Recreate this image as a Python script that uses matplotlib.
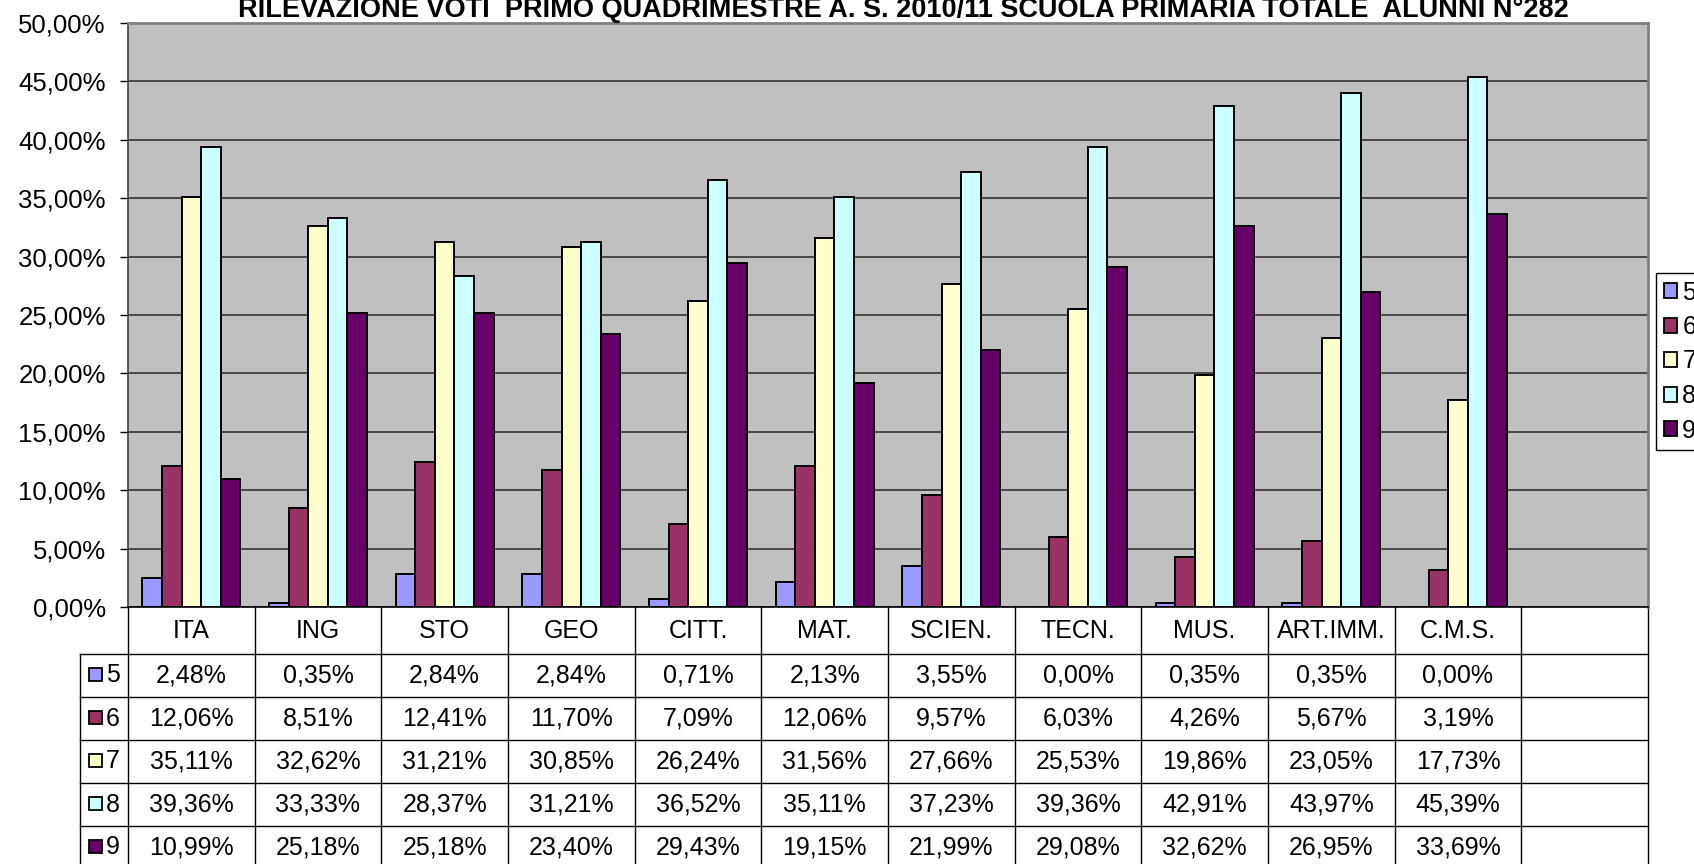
import numpy as np
import matplotlib
matplotlib.use('Agg')
import matplotlib.pyplot as plt
from matplotlib.patches import Rectangle, Patch
from matplotlib.transforms import blended_transform_factory

plt.rcParams['font.family'] = ['Liberation Sans', 'DejaVu Sans']

subjects = ['ITA', 'ING', 'STO', 'GEO', 'CITT.', 'MAT.', 'SCIEN.', 'TECN.',
            'MUS.', 'ART.IMM.', 'C.M.S.', '']
grades = ['5', '6', '7', '8', '9']
v5 = [2.48, 0.35, 2.84, 2.84, 0.71, 2.13, 3.55, 0.00, 0.35, 0.35, 0.00]
v6 = [12.06, 8.51, 12.41, 11.70, 7.09, 12.06, 9.57, 6.03, 4.26, 5.67, 3.19]
v7 = [35.11, 32.62, 31.21, 30.85, 26.24, 31.56, 27.66, 25.53, 19.86, 23.05, 17.73]
v8 = [39.36, 33.33, 28.37, 31.21, 36.52, 35.11, 37.23, 39.36, 42.91, 43.97, 45.39]
v9 = [10.99, 25.18, 25.18, 23.40, 29.43, 19.15, 21.99, 29.08, 32.62, 26.95, 33.69]
series = [v5, v6, v7, v8, v9]
colors = ['#9999FF', '#993366', '#FFFFCC', '#CCFFFF', '#660066']

title = 'RILEVAZIONE VOTI  PRIMO QUADRIMESTRE A. S. 2010/11 SCUOLA PRIMARIA TOTALE  ALUNNI N°282'

W, H = 1694, 864
fig = plt.figure(figsize=(W / 100, H / 100), dpi=100)
left, right, top, bottom = 128, 1648, 23, 607
ax = fig.add_axes([left / W, 1 - bottom / H, (right - left) / W, (bottom - top) / H])
ax.set_facecolor('#C0C0C0')

n = len(subjects)
bw = 0.155
for i, (vals, c) in enumerate(zip(series, colors)):
    xs = np.arange(len(vals)) + (i - 2) * bw
    ax.bar(xs, vals, width=bw, color=c, edgecolor='black', linewidth=1.4, zorder=3)

ax.set_xlim(-0.5, n - 0.5)
ax.set_ylim(0, 50)
ax.set_yticks(np.arange(0, 51, 5))
ax.set_yticklabels([('%.2f' % t).replace('.', ',') + '%' for t in np.arange(0, 51, 5)], fontsize=18.5)
ax.yaxis.grid(True, color='#333333', linewidth=1.2, zorder=1)
ax.set_axisbelow(True)
ax.set_xticks([])
ax.tick_params(axis='y', length=6, width=1, color='black', pad=10)
for s in ['top', 'right']:
    ax.spines[s].set_color('#808080')
    ax.spines[s].set_linewidth(2)
ax.spines['left'].set_color('#404040')
ax.spines['left'].set_linewidth(1.2)
ax.spines['bottom'].set_color('black')
ax.spines['bottom'].set_linewidth(1.2)

fig.text(903 / W, 1 - 17 / H, title, ha='center', va='baseline', fontsize=19.5,
         fontweight='bold')

# data table under the chart
ph = bottom - top
def ya(ypx):
    return -(ypx - bottom) / ph

trans = blended_transform_factory(ax.transData, ax.transAxes)
row_edges = [607, 654, 697, 740, 783, 826, 869]
xl = -0.5 - 48 / ((right - left) / n)
lkw = dict(color='black', linewidth=1, transform=trans, clip_on=False)

for k in range(n + 1):
    ax.plot([k - 0.5, k - 0.5], [ya(607), ya(869)], **lkw)
ax.plot([xl, xl], [ya(654), ya(869)], **lkw)
for yp in row_edges[1:]:
    ax.plot([xl, n - 0.5], [ya(yp), ya(yp)], **lkw)

fs = 18
for k, name in enumerate(subjects):
    ax.text(k, ya(631), name, transform=trans, ha='center', va='center', fontsize=fs)

cw = (right - left) / n
for r, (vals, c, g) in enumerate(zip(series, colors, grades)):
    yc = (row_edges[r + 1] + row_edges[r + 2]) / 2
    for k, v in enumerate(vals):
        ax.text(k, ya(yc), ('%.2f' % v).replace('.', ',') + '%', transform=trans,
                ha='center', va='center', fontsize=fs)
    sq = 13
    ax.add_patch(Rectangle((xl + 9 / cw, ya(yc + sq / 2 - 1)), sq / cw, sq / ph,
                           facecolor=c, edgecolor='black', linewidth=1.3,
                           transform=trans, clip_on=False))
    ax.text(xl + 26 / cw, ya(yc), g, transform=trans, ha='left', va='center', fontsize=fs)

handles = [Patch(facecolor=c, edgecolor='black', linewidth=1.3) for c in colors]
leg = fig.legend(handles, grades, loc='upper left',
                 bbox_to_anchor=(1656 / W, 1 - 273 / H), fontsize=18,
                 handlelength=0.55, handleheight=0.55, handletextpad=0.2,
                 labelspacing=0.42, borderpad=0.3, borderaxespad=0,
                 fancybox=False, edgecolor='black', framealpha=1)
leg.get_frame().set_linewidth(1)

fig.savefig('out.png', dpi=100)
